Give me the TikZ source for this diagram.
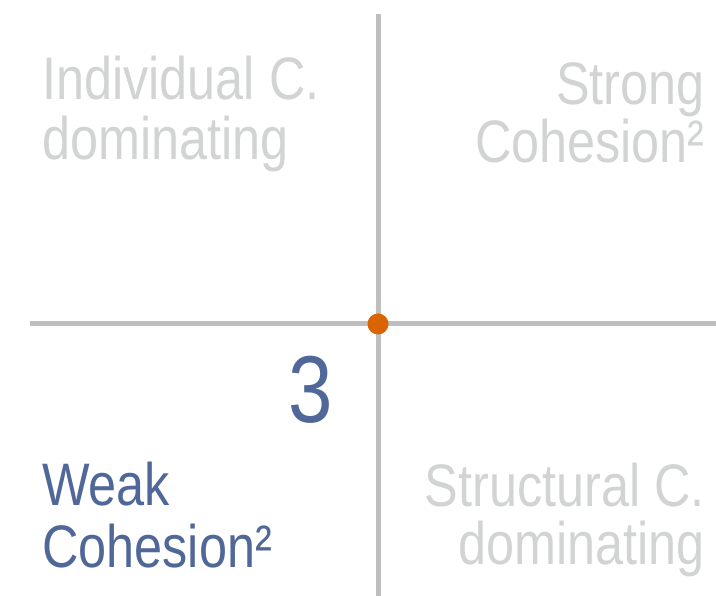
\documentclass[tikz,border=0pt]{standalone}
\usepackage{fontspec}
\setmainfont[FakeStretch=0.84]{Liberation Sans}
\definecolor{axisgray}{RGB}{190,190,190}
\definecolor{lightgray}{RGB}{210,212,212}
\definecolor{dotorange}{RGB}{217,100,0}
\definecolor{blueish}{RGB}{80,103,153}
\tikzset{
  lbl/.style={inner sep=0pt, font=\fontsize{60}{60}\selectfont},
  axisline/.style={draw=axisgray, line width=5pt},
}
\begin{document}
\begin{tikzpicture}[x=1pt,y=-1pt]
\useasboundingbox (0,0) rectangle (716,596);
\coordinate (vt) at (378,14);
\coordinate (vb) at (378,596);
\coordinate (hl) at (30,324);
\coordinate (hr) at (716,324);
\draw[axisline] (vt) -- (vb);
\draw[axisline] (hl) -- (hr);
\fill[dotorange] (378,324) circle (10.5) coordinate (dot);
% top left
\node[lbl, lightgray, anchor=base west] (tl1) at (42,100) {Individual C.};
\node[lbl, lightgray, anchor=base west] (tl2) at (42,160) {dominating};
% top right
\node[lbl, lightgray, anchor=base east] (tr1) at (705,105) {Strong};
\node[lbl, lightgray, anchor=base east] (tr2) at (705,163) {Cohesion²};
% bottom left
\node[lbl, blueish, anchor=base west] (bl1) at (42,506) {Weak};
\node[lbl, blueish, anchor=base west] (bl2) at (42,567) {Cohesion²};
% bottom right
\node[lbl, lightgray, anchor=base east] (br1) at (705,507) {Structural C.};
\node[lbl, lightgray, anchor=base east] (br2) at (705,565) {dominating};
% number
\node[inner sep=0pt, blueish, anchor=base east, font=\fontsize{95}{95}\selectfont] (num) at (333,423) {3};
\end{tikzpicture}
\end{document}
